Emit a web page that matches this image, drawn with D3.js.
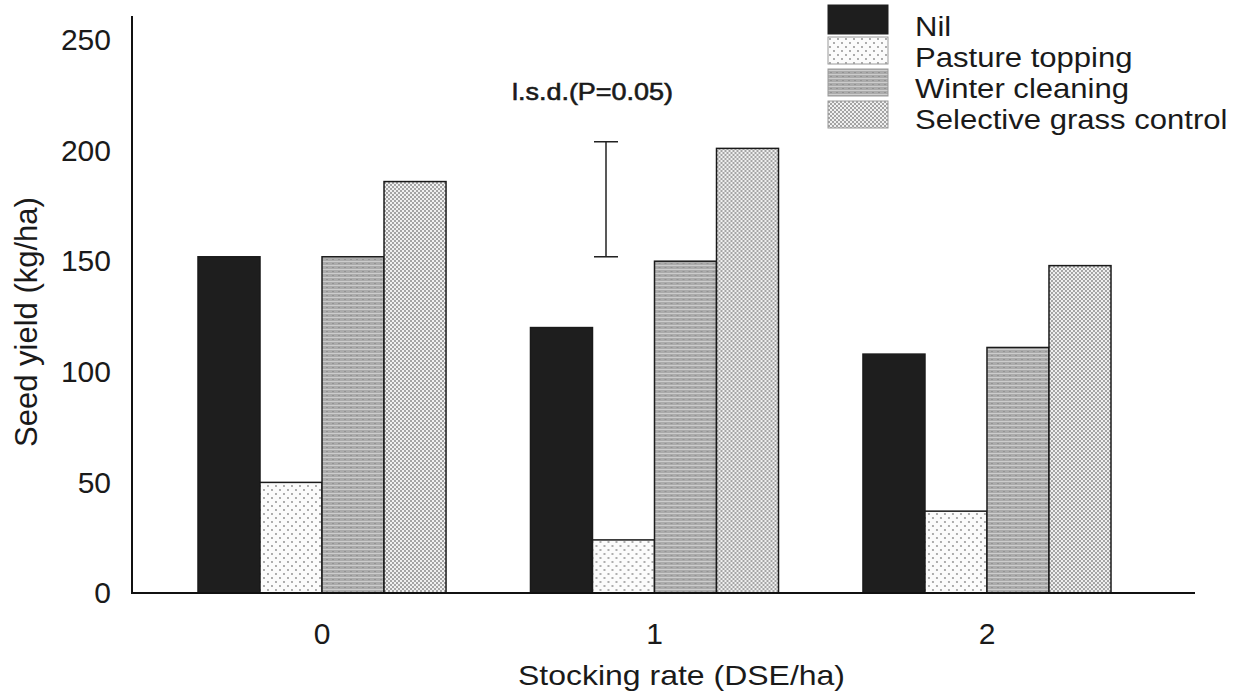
<!DOCTYPE html>
<html>
<head>
<meta charset="UTF-8">
<title>Seed yield</title>
<script src="https://cdn.jsdelivr.net/npm/d3@7"></script>
<style>
  body{ margin:0; background:#fff; }
  svg text{ font-family: "Liberation Sans", Arial, sans-serif; fill:#1a1a1a; }
  .axis .domain{ display:none; }
</style>
</head>
<body>
<div id="root"></div>
<script>
const categories = ["0", "1", "2"];
const seriesNames = ["Nil", "Pasture topping", "Winter cleaning", "Selective grass control"];
const nil = [152, 120, 108];
const pastureTopping = [50, 24, 37];
const winterCleaning = [152, 150, 111];
const selectiveGrass = [186, 201, 148];
const yTicks = [0, 50, 100, 150, 200, 250];
const lsdRange = [152, 204];

const width = 1253, height = 694;
const series = [nil, pastureTopping, winterCleaning, selectiveGrass];
const fills = ["#1e1e1e", "url(#pt)", "url(#wc)", "url(#sg)"];

let svg = d3.select("#root").append("svg").attr("width", width).attr("height", height)

// fill patterns, roughly like the scanned screens
let defs = svg.append("defs")
let pt = defs.append("pattern").attr("id", "pt").attr("patternUnits", "userSpaceOnUse").attr("width", 8).attr("height", 8)
pt.append("rect").attr("width", 8).attr("height", 8).attr("fill", "#fbfbfb")
pt.append("circle").attr("cx", 2).attr("cy", 2).attr("r", 0.9).attr("fill", "#888")
pt.append("circle").attr("cx", 6).attr("cy", 6).attr("r", 0.9).attr("fill", "#888")

let wc = defs.append("pattern").attr("id", "wc").attr("patternUnits", "userSpaceOnUse").attr("width", 6).attr("height", 4)
wc.append("rect").attr("width", 6).attr("height", 4).attr("fill", "#ababab")
wc.append("rect").attr("y", 1).attr("width", 6).attr("height", 1).attr("fill", "#cdcdcd")
wc.append("rect").attr("x", 2).attr("y", 3).attr("width", 2).attr("height", 1).attr("fill", "#939393")

let sg = defs.append("pattern").attr("id", "sg").attr("patternUnits", "userSpaceOnUse").attr("width", 4).attr("height", 4)
sg.append("rect").attr("width", 4).attr("height", 4).attr("fill", "#f0f0f0")
sg.append("rect").attr("width", 2).attr("height", 2).attr("fill", "#a4a4a4")
sg.append("rect").attr("x", 2).attr("y", 2).attr("width", 2).attr("height", 2).attr("fill", "#a4a4a4")

// scales
let y = d3.scaleLinear().domain([0, 250]).range([593, 40])
let x = d3.scaleBand().domain(categories).range([198, 1111]).paddingInner(0.254)
let xs = d3.scaleBand().domain(d3.range(seriesNames.length)).range([0, x.bandwidth()])

// bars
categories.forEach(function (c, ci) {
    let g = svg.append("g").attr("transform", "translate(" + x(c) + ",0)")
    g.selectAll("rect").data(series.map(s => s[ci])).enter().append("rect")
        .attr("x", (d, i) => xs(i))
        .attr("y", d => y(d))
        .attr("width", xs.bandwidth())
        .attr("height", d => y(0) - y(d))
        .attr("fill", (d, i) => fills[i])
        .attr("stroke", "#1a1a1a").attr("stroke-width", 1.5)
})

// axis lines
svg.append("line").attr("x1", 132).attr("x2", 132).attr("y1", 16).attr("y2", y(0)).attr("stroke", "#111").attr("stroke-width", 2)
svg.append("line").attr("x1", 131).attr("x2", 1195).attr("y1", y(0)).attr("y2", y(0)).attr("stroke", "#111").attr("stroke-width", 2)

let yAxis = d3.axisLeft(y).tickValues(yTicks).tickSize(0).tickPadding(21)
svg.append("g").attr("class", "axis").attr("transform", "translate(132,0)").call(yAxis)
    .selectAll("text").style("font-size", "30px").attr("fill", "#1a1a1a")

let xAxis = d3.axisBottom(x).tickSize(0).tickPadding(30)
svg.append("g").attr("class", "axis").attr("transform", "translate(0," + y(0) + ")").call(xAxis)
    .selectAll("text").style("font-size", "30px").attr("fill", "#1a1a1a")

// axis titles
svg.append("text").attr("x", 518).attr("y", 685).style("font-size", "28px")
    .attr("textLength", 327).attr("lengthAdjust", "spacingAndGlyphs").text("Stocking rate (DSE/ha)")
svg.append("text").attr("transform", "translate(37,322) rotate(-90)").attr("text-anchor", "middle")
    .style("font-size", "31px").text("Seed yield (kg/ha)")

// l.s.d. bar
let lx = 606
svg.append("text").attr("x", 512).attr("y", 100).style("font-size", "24px")
    .attr("stroke", "#1a1a1a").attr("stroke-width", 0.6)
    .attr("textLength", 161).attr("lengthAdjust", "spacingAndGlyphs").text("l.s.d.(P=0.05)")
svg.append("line").attr("x1", lx).attr("x2", lx).attr("y1", y(lsdRange[0])).attr("y2", y(lsdRange[1])).attr("stroke", "#222").attr("stroke-width", 1.5)
lsdRange.forEach(v => {
    svg.append("line").attr("x1", lx - 12).attr("x2", lx + 12).attr("y1", y(v)).attr("y2", y(v)).attr("stroke", "#222").attr("stroke-width", 1.5)
})

// legend
let legend = svg.append("g").attr("transform", "translate(828,5)")
seriesNames.forEach(function (name, i) {
    let row = legend.append("g").attr("transform", "translate(0," + (i * 32) + ")")
    row.append("rect").attr("width", 60).attr("height", i == 0 ? 29 : 27).attr("fill", fills[i])
        .attr("stroke", i == 0 ? "#1e1e1e" : "#999").attr("stroke-width", 1)
    row.append("text").attr("transform", "translate(87," + (31 - i) + ") scale(1.13,1)")
        .style("font-size", "27.5px").text(name)
})
</script>
</body>
</html>
